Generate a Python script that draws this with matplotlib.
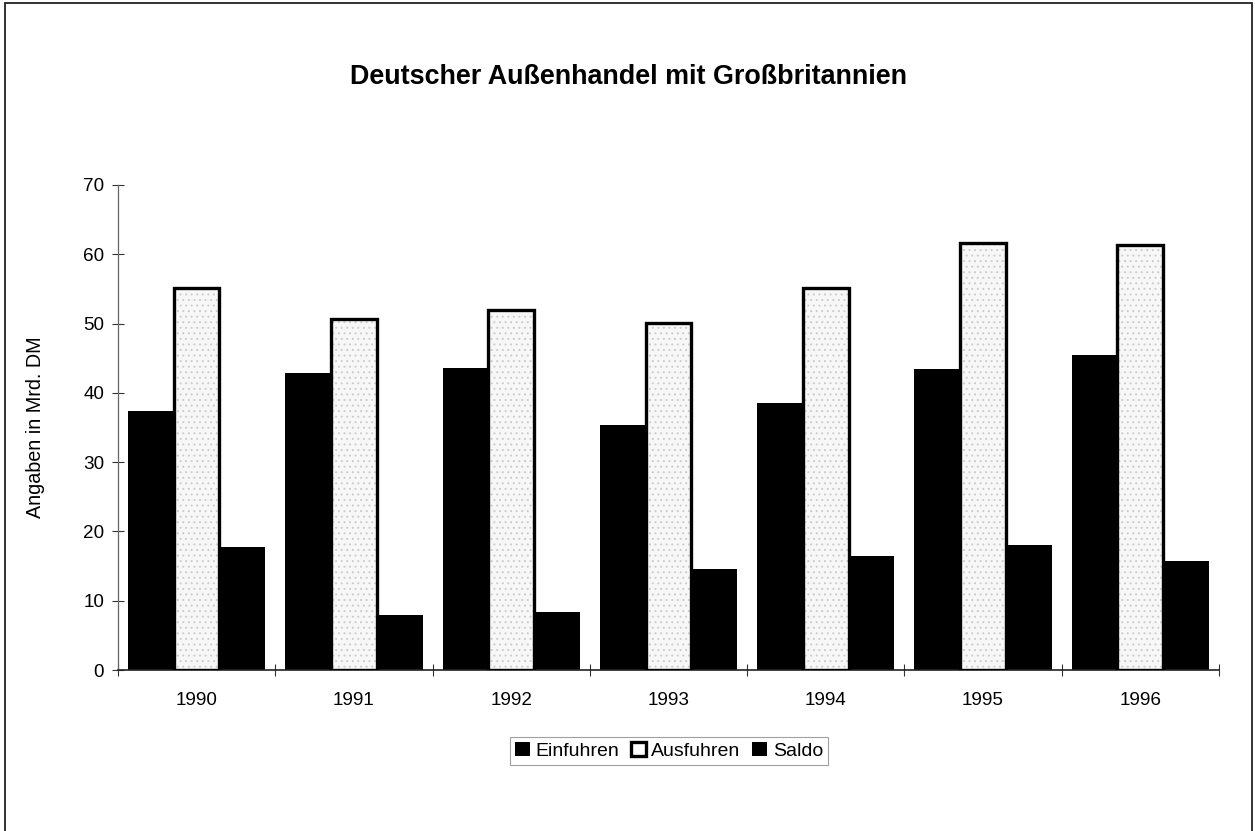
import matplotlib
matplotlib.use('Agg')
import matplotlib.pyplot as plt
import numpy as np
from matplotlib.patches import Rectangle

years = ['1990', '1991', '1992', '1993', '1994', '1995', '1996']
einfuhren = [37.4, 42.8, 43.6, 35.4, 38.5, 43.4, 45.4]
ausfuhren = [55.2, 50.6, 51.9, 50.1, 55.1, 61.6, 61.3]
saldo = [17.8, 8.0, 8.4, 14.6, 16.5, 18.0, 15.8]
y_ticks = [0, 10, 20, 30, 40, 50, 60, 70]

plt.rcParams['font.family'] = ['Liberation Sans', 'DejaVu Sans']
plt.rcParams['hatch.linewidth'] = 0.7

fig = plt.figure(figsize=(12.55, 8.31), dpi=100)
ax = fig.add_axes([0.094, 0.1937, 0.8773, 0.5837])

x = np.arange(len(years))
w = 0.291

ax.bar(x - w, einfuhren, w, color='black', label='Einfuhren', zorder=2)
# stippled fill first, then the heavy outline on top
ax.bar(x, ausfuhren, w, color='#f7f7f7', edgecolor='#cccccc', linewidth=0,
       hatch='...', zorder=2)
ax.bar(x, ausfuhren, w, facecolor='none', edgecolor='black', linewidth=2.4,
       label='Ausfuhren', zorder=3)
ax.bar(x + w, saldo, w, color='black', label='Saldo', zorder=2)

ax.set_xlim(-0.5, len(years) - 0.5)
ax.set_ylim(0, 70)
ax.set_yticks(y_ticks)
ax.set_xticks(x)
ax.set_xticklabels(years)
ax.set_xticks(np.arange(-0.5, len(years)), minor=True)

ax.tick_params(axis='x', which='major', length=0, pad=16, labelsize=13.6)
ax.tick_params(axis='x', which='minor', direction='inout', length=8,
               width=0.8, color='#333333')
ax.tick_params(axis='y', direction='inout', length=8, width=0.8,
               color='#333333', pad=6, labelsize=13.6)

for side in ('top', 'right'):
    ax.spines[side].set_visible(False)
ax.spines['left'].set_color('#666666')
ax.spines['left'].set_linewidth(0.9)
ax.spines['bottom'].set_color('#222222')
ax.spines['bottom'].set_linewidth(1.2)

ax.set_ylabel('Angaben in Mrd. DM', fontsize=14.2)
ax.yaxis.set_label_coords(-0.066, 0.5)

fig.text(628 / 1255, 1 - 77 / 831, 'Deutscher Außenhandel mit Großbritannien',
         ha='center', va='center', fontsize=19.4, fontweight='bold')

leg = fig.legend(loc='center', bbox_to_anchor=(669 / 1255, 1 - 751 / 831),
                 ncol=3, fontsize=14, frameon=True, fancybox=False,
                 handlelength=0.75, handleheight=0.75, handletextpad=0.3,
                 columnspacing=0.6, borderpad=0.25, borderaxespad=0)
leg.get_frame().set_edgecolor('#888888')
leg.get_frame().set_linewidth(0.8)

# frame around the whole chart (bottom edge runs off the page)
fig.patches.append(Rectangle((5 / 1255, -0.02), 1247 / 1255, 1.02 - 3 / 831,
                             transform=fig.transFigure, fill=False,
                             edgecolor='#222222', linewidth=1.3))

fig.savefig('out.png', dpi=100, facecolor='white')
